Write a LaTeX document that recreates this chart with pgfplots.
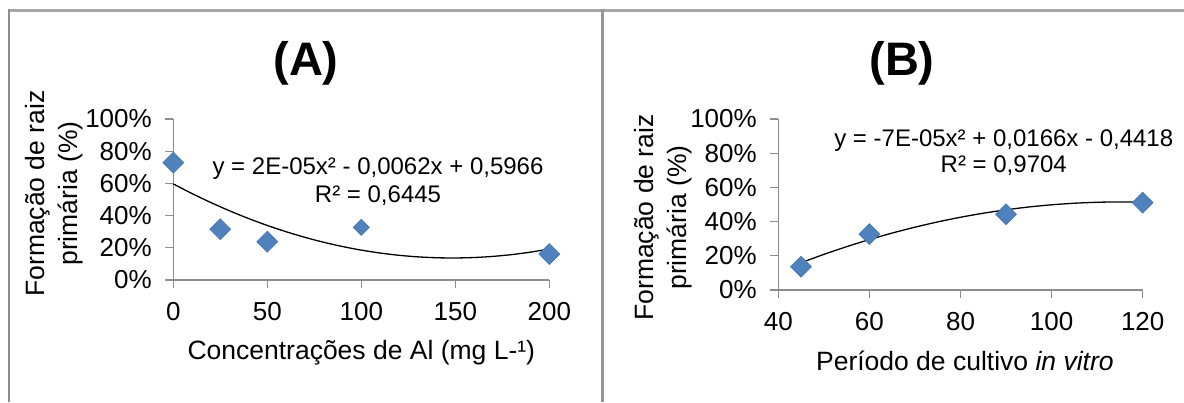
\documentclass[border=0pt]{standalone}
\usepackage{fontspec}
\setmainfont{Liberation Sans}
\usepackage{pgfplots}
\pgfplotsset{compat=1.18}
\definecolor{mblue}{HTML}{4F81BD}
\definecolor{mblueedge}{HTML}{4375B2}
\definecolor{axgray}{HTML}{8C8C8C}
\definecolor{framegray}{HTML}{A6A6A6}
\definecolor{sepgray}{HTML}{969696}
\pgfplotsset{
  mystyle/.style={
    scale only axis,
    anchor=south west,
    axis x line*=bottom, axis y line*=left,
    axis line style={axgray, line width=1.2pt, -},
    tick style={axgray, line width=1.2pt},
    tick align=outside,
    major tick length=8pt,
    ymin=0, ymax=100,
    ytick={0,20,...,100},
    yticklabel={\pgfmathprintnumber{\tick}\%},
    /pgf/number format/assume math mode=true,
    ticklabel style={font=\fontsize{26}{26}\selectfont},
    yticklabel style={xshift=-10pt},
    xticklabel style={yshift=-11pt},
    label style={font=\fontsize{26.5}{33}\selectfont},
    ylabel style={align=center},
    clip=false,
  },
  dia/.style={only marks, mark=square*, mark size=7.4pt,
    mark options={rotate=45, fill=mblue, draw=mblueedge, line width=0.6pt}},
  trend/.style={no marks, black, line width=1.3pt, smooth},
}
\begin{document}
\begin{tikzpicture}
\useasboundingbox (0pt,0pt) rectangle (1184pt,402pt);
\fill[white] (0pt,0pt) rectangle (1184pt,402pt);
% frames
\draw[framegray, line width=2.5pt] (8pt,391.7pt) -- (1184pt,391.7pt);
\draw[axgray, line width=2pt] (9pt,392.9pt) -- (9pt,0pt);
\draw[sepgray, line width=3.3pt] (602.3pt,392.9pt) -- (602.3pt,0pt);
% titles
\node[font=\fontsize{47}{47}\selectfont\bfseries] at (306pt,339pt) {(A)};
\node[font=\fontsize{47}{47}\selectfont\bfseries] at (902pt,339pt) {(B)};

% ---------- Panel A ----------
\begin{axis}[mystyle,
  at={(173.3pt,122pt)}, width=376pt, height=161pt,
  xmin=0, xmax=200, xtick={0,50,100,150,200},
  xlabel={Concentrações de Al (mg L-¹)},
  ylabel={Formação de raiz\\primária (\%)},
  xlabel style={at={(axis description cs:0.5,-0.491)}, anchor=base},
  ylabel style={at={(axis description cs:-0.316,0.537)}, anchor=center},
]
\addplot[trend] coordinates {
(0,59.66) (10,53.669) (20,48.096) (30,42.941) (40,38.204) (50,33.885)
(60,29.984) (70,26.501) (80,23.436) (90,20.789) (100,18.56) (110,16.749)
(120,15.356) (130,14.381) (140,13.824) (150,13.685) (160,13.964)
(170,14.661) (180,15.776) (190,17.309) (200,19.26)};
\addplot[dia] coordinates {(0,72.9) (25,31.5) (50,23.8) (200,16.1)};
\addplot[dia, mark size=5.7pt] coordinates {(100,32.7)};
\node[anchor=base, font=\fontsize{24}{24}\selectfont] at (axis cs:108.9,65.8) {y = 2E-05x² - 0,0062x + 0,5966};
\node[anchor=base, font=\fontsize{24}{24}\selectfont] at (axis cs:108.9,48.4) {R² = 0,6445};
\end{axis}

% ---------- Panel B ----------
\begin{axis}[mystyle,
  at={(778.3pt,112pt)}, width=364.4pt, height=171pt,
  xmin=40, xmax=120, xtick={40,60,80,100,120},
  xlabel={Período de cultivo \textit{in vitro}},
  ylabel={Formação de raiz\\primária (\%)},
  xlabel style={at={(axis description cs:0.512,-0.468)}, anchor=base},
  ylabel style={at={(axis description cs:-0.317,0.424)}, anchor=center},
]
\addplot[trend] coordinates {
(45,15.94) (50,20.82) (55,25.34) (60,29.5) (65,33.3) (70,36.74) (75,39.82)
(80,42.54) (85,44.9) (90,46.9) (95,48.54) (100,49.82) (105,50.74)
(110,51.3) (115,51.5) (120,51.34)};
\addplot[dia] coordinates {(45,13.6) (60,32.7) (90,44.3) (120,51.1)};
\node[anchor=base, font=\fontsize{24}{24}\selectfont] at (axis cs:89.5,84.2) {y = -7E-05x² + 0,0166x - 0,4418};
\node[anchor=base, font=\fontsize{24}{24}\selectfont] at (axis cs:89.5,69.0) {R² = 0,9704};
\end{axis}
\end{tikzpicture}
\end{document}
